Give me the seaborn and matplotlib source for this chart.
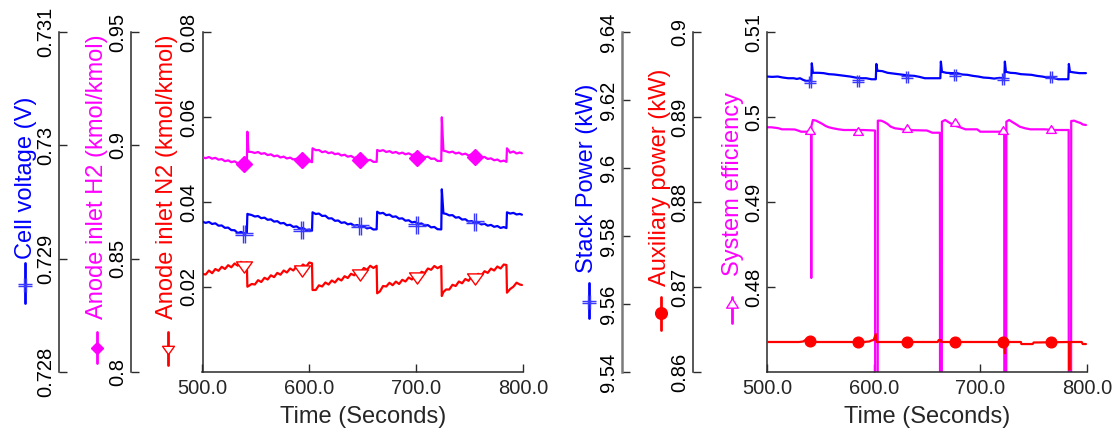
import matplotlib
matplotlib.use("Agg")
import matplotlib.pyplot as plt
import seaborn as sns
from matplotlib.path import Path
from matplotlib.lines import Line2D
from matplotlib import font_manager as fm

# ---------------- data ----------------
# Left panel: time samples shared by the three anode / cell series
t_left = [500, 503, 506, 509, 512, 515, 518, 521, 524, 527, 530, 533, 536, 539, 541.5,
          542, 543,
          546, 549, 552, 555, 558, 561, 564, 567, 570, 573, 576, 579, 582, 585, 588, 591, 594, 597, 600, 602.5,
          603, 606, 609, 612, 615, 618, 621, 624, 627, 630, 633, 636, 639, 642, 645, 648, 651, 654, 657, 660, 663,
          663.5, 666, 669, 672, 675, 678, 681, 684, 687, 690, 693, 696, 699, 702, 705, 708, 711, 714, 717, 720, 723.5,
          724, 725.5,
          728, 731, 734, 737, 740, 743, 746, 749, 752, 755, 758, 761, 764, 767, 770, 773, 776, 779, 782, 784.5,
          785, 788, 791, 794, 797, 799]

cell_voltage = [0.729326, 0.729316, 0.729324, 0.729306, 0.729312, 0.729291, 0.729293, 0.729272, 0.729274, 0.729252,
                0.729251, 0.729226, 0.729236, 0.729223, 0.729228,
                0.729395, 0.729392,
                0.729385, 0.729372, 0.729376, 0.729357, 0.729362, 0.729343, 0.729347, 0.729327, 0.729331, 0.729311,
                0.729315, 0.729295, 0.729299, 0.729280, 0.729285, 0.729266, 0.729271, 0.729252, 0.729257, 0.729247,
                0.729409, 0.729394, 0.729398, 0.729377, 0.729379, 0.729355, 0.729356, 0.729334, 0.729337, 0.729316,
                0.729321, 0.729303, 0.729309, 0.729291, 0.729297, 0.729279, 0.729285, 0.729267, 0.729274, 0.729257,
                0.729259,
                0.729414, 0.729399, 0.729404, 0.729384, 0.729389, 0.729369, 0.729373, 0.729353, 0.729356, 0.729335,
                0.729339, 0.729320, 0.729325, 0.729306, 0.729311, 0.729292, 0.729296, 0.729276, 0.729280, 0.729260,
                0.729258,
                0.729612, 0.729400,
                0.729395, 0.729382, 0.729384, 0.729362, 0.729366, 0.729345, 0.729348, 0.729328, 0.729332, 0.729314,
                0.729320, 0.729302, 0.729308, 0.729291, 0.729298, 0.729281, 0.729288, 0.729271, 0.729279, 0.729270,
                0.729409, 0.729398, 0.729404, 0.729390, 0.729395, 0.729388]

anode_h2 = [0.89472, 0.89433, 0.89484, 0.89411, 0.89449, 0.89367, 0.89392, 0.89301, 0.89339, 0.89257, 0.89295,
            0.89204, 0.89251, 0.89177, 0.89199,
            0.90601, 0.89719,
            0.89706, 0.89663, 0.89705, 0.89623, 0.89656, 0.89570, 0.89604, 0.89517, 0.89551, 0.89464, 0.89502,
            0.89420, 0.89458, 0.89376, 0.89409, 0.89323, 0.89356, 0.89270, 0.89308, 0.89256,
            0.89869, 0.89786, 0.89793, 0.89698, 0.89736, 0.89654, 0.89692, 0.89610, 0.89639, 0.89552, 0.89586,
            0.89499, 0.89533, 0.89446, 0.89480, 0.89389, 0.89418, 0.89332, 0.89361, 0.89270, 0.89273,
            0.89794, 0.89746, 0.89789, 0.89707, 0.89745, 0.89667, 0.89709, 0.89632, 0.89679, 0.89605, 0.89648,
            0.89570, 0.89612, 0.89535, 0.89568, 0.89477, 0.89502, 0.89402, 0.89418, 0.89310, 0.89309,
            0.91237, 0.89765,
            0.89737, 0.89685, 0.89723, 0.89641, 0.89679, 0.89596, 0.89634, 0.89552, 0.89599, 0.89517, 0.89551,
            0.89460, 0.89489, 0.89398, 0.89427, 0.89341, 0.89374, 0.89288, 0.89326, 0.89273,
            0.89869, 0.89676, 0.89728, 0.89640, 0.89684, 0.89649]

anode_n2 = [0.023059, 0.022944, 0.023879, 0.023250, 0.024232, 0.023815, 0.024750, 0.024238, 0.025126, 0.024638,
            0.025526, 0.025015, 0.025926, 0.025344, 0.025812,
            0.020071, 0.020200,
            0.020706, 0.020591, 0.021597, 0.021179, 0.022162, 0.021768, 0.022750, 0.022332, 0.023315, 0.022897,
            0.023879, 0.023415, 0.024350, 0.023885, 0.024821, 0.024356, 0.025291, 0.024826, 0.025762, 0.025576,
            0.019294, 0.019297, 0.020397, 0.020121, 0.021056, 0.020591, 0.021526, 0.021062, 0.021997, 0.021532,
            0.022538, 0.022121, 0.023103, 0.022756, 0.023762, 0.023415, 0.024468, 0.024050, 0.024985, 0.024474,
            0.024988,
            0.018518, 0.018944, 0.020232, 0.020121, 0.020985, 0.020426, 0.021268, 0.020709, 0.021691, 0.021297,
            0.022232, 0.021768, 0.022821, 0.022474, 0.023574, 0.023274, 0.024350, 0.024050, 0.024938, 0.024426,
            0.024941,
            0.017882, 0.018824,
            0.019412, 0.019415, 0.020515, 0.020238, 0.021291, 0.020874, 0.021879, 0.021462, 0.022421, 0.022050,
            0.023103, 0.022709, 0.023715, 0.023321, 0.024326, 0.023885, 0.024821, 0.024356, 0.025291, 0.025176,
            0.018659, 0.019529, 0.020071, 0.021012, 0.020588, 0.020471]

# left panel marker samples
t_left_marks = [539, 593, 647, 701, 755]
cell_voltage_marks = [0.729218, 0.729249, 0.729284, 0.729301, 0.729324]
anode_h2_marks = [0.89176, 0.89353, 0.89353, 0.89428, 0.89507]
anode_n2_marks = [0.024706, 0.023765, 0.022824, 0.022235, 0.021765]

# Right panel
t_stack = [500, 505, 510, 515, 520, 525, 528, 531, 534, 537, 540, 541.5, 542, 543, 548, 553, 558, 563, 568, 573,
           578, 583, 588, 593, 598, 602, 602.5, 603.5, 608, 613, 618, 623, 628, 633, 638, 643, 648, 653, 658, 662.5,
           663, 664, 668, 673, 678, 683, 688, 693, 698, 703, 708, 713, 718, 722.5, 723, 724, 728, 733, 738, 743,
           748, 753, 758, 763, 768, 773, 778, 782.5, 783, 784, 788, 793, 799]
stack_power = [9.6269, 9.6268, 9.6269, 9.6266, 9.6264, 9.6264, 9.6262, 9.6264, 9.6259, 9.6256,
               9.6257, 9.6257, 9.6308, 9.6280, 9.6280, 9.6279, 9.6276, 9.6275, 9.6273, 9.6271,
               9.6269, 9.6266, 9.6264, 9.6264, 9.6261, 9.6261, 9.6306, 9.6286, 9.6285, 9.6280,
               9.6278, 9.6276, 9.6274, 9.6272, 9.6271, 9.6268, 9.6264, 9.6264, 9.6264, 9.6264,
               9.6313, 9.6283, 9.6280, 9.6279, 9.6279, 9.6275, 9.6274, 9.6271, 9.6269, 9.6266,
               9.6265, 9.6263, 9.6265, 9.6264, 9.6313, 9.6283, 9.6280, 9.6279, 9.6276, 9.6275,
               9.6274, 9.6271, 9.6269, 9.6266, 9.6265, 9.6261, 9.6261, 9.6261, 9.6306, 9.6283,
               9.6281, 9.6279, 9.6279]

t_eff = [500, 504, 508, 511, 514, 520, 526, 529, 532, 541.3, 541.5, 541.7, 543, 546, 549, 552, 555, 558, 562, 567,
         572, 590, 601.3, 601.5, 603.7, 603.9, 607, 610, 613, 616, 620, 625, 630, 650, 655, 662.1, 662.3, 663.8,
         664, 667, 670, 673, 677, 681, 686, 697, 700, 722.4, 722.6, 724.2, 724.4, 727, 730, 733, 737, 742, 747,
         760, 770, 782.8, 783, 785, 785.2, 788, 791, 794, 796, 799]
system_eff = [0.49879, 0.49879, 0.49873, 0.49867, 0.49855, 0.49855, 0.49853, 0.49841, 0.49827, 0.49827,
              0.48106, 0.49894, 0.49965, 0.49957, 0.49938, 0.49918, 0.49894, 0.49879, 0.49867, 0.49855,
              0.49847, 0.49847, 0.49841, 0.44, 0.44, 0.49957, 0.49957, 0.49941, 0.49918, 0.49886,
              0.49867, 0.49859, 0.49847, 0.49841, 0.49815, 0.49815, 0.44, 0.44, 0.49945, 0.49965,
              0.49941, 0.49918, 0.49894, 0.49879, 0.49855, 0.49855, 0.49827, 0.49827, 0.44, 0.44,
              0.49945, 0.49965, 0.49941, 0.49918, 0.49886, 0.49867, 0.49855, 0.49855, 0.49847, 0.49847,
              0.44, 0.44, 0.49953, 0.49957, 0.49941, 0.49929, 0.49912, 0.49906]

t_aux = [500, 530, 534, 537, 541, 543, 590, 596, 598, 600, 602, 602.5, 660, 661, 663, 663.5, 722.9, 723.1, 723.3,
         738, 738.5, 749, 750, 783.2, 783.4, 783.6, 795, 796, 799]
aux_power = [0.86353, 0.86353, 0.86359, 0.86385, 0.86388, 0.86353, 0.86353, 0.86359, 0.86371, 0.86376,
             0.86447, 0.86353, 0.86353, 0.86376, 0.86376, 0.86353, 0.86353, 0.86220, 0.86353, 0.86353,
             0.86329, 0.86329, 0.86347, 0.86353, 0.86024, 0.86353, 0.86353, 0.86329, 0.86329]

t_right_marks = [540, 585, 631, 676, 721, 766]
stack_power_marks = [9.6254, 9.6257, 9.6269, 9.6274, 9.6261, 9.6267]
system_eff_marks = [0.49847, 0.49839, 0.49867, 0.49945, 0.49847, 0.49859]
aux_power_marks = [0.86368, 0.86353, 0.86353, 0.86353, 0.86353, 0.86353]

x_ticks = [500, 600, 700, 800]
x_tick_labels = ["500.0", "600.0", "700.0", "800.0"]

# ---------------- style ----------------
sns.set_theme(style="white")
plt.rcParams["font.family"] = ["Liberation Sans", "DejaVu Sans"]

try:
    fm.findfont(fm.FontProperties(family=["Liberation Sans Narrow"]), fallback_to_default=False)
    ytick_fp = fm.FontProperties(family=["Liberation Sans Narrow"], size=17)
except Exception:
    ytick_fp = fm.FontProperties(family=["Liberation Sans"], size=14.5)

BLUE, MAGENTA, RED = "#0000ff", "#ff00ff", "#ff0000"
SPINE = "#2a2a2a"
W, H = 1117, 433

hash_marker = Path([(-1, -0.13), (1, -0.13), (-1, 0.13), (1, 0.13),
                    (-0.13, -1), (-0.13, 1), (0.13, -1), (0.13, 1)],
                   [Path.MOVETO, Path.LINETO] * 4)
tri_down = Path([(-1, 0.7), (1, 0.7), (0, -0.7), (-1, 0.7)],
                [Path.MOVETO, Path.LINETO, Path.LINETO, Path.CLOSEPOLY])
tri_up = Path([(-1, -0.8), (1, -0.8), (0, 0.8), (-1, -0.8)],
              [Path.MOVETO, Path.LINETO, Path.LINETO, Path.CLOSEPOLY])

fig = plt.figure(figsize=(W / 100, H / 100), dpi=100)
axL = fig.add_axes([202.5 / W, 1 - 372 / H, 320.5 / W, 340 / H])
axR = fig.add_axes([767 / W, 1 - 372 / H, 320 / W, 340 / H])


def style_y(ax, ticks, labels, lim):
    ax.set_ylim(*lim)
    ax.set_yticks(ticks)
    ax.set_yticklabels(labels, rotation=90, va="center", ha="right", fontproperties=ytick_fp)
    ax.tick_params(axis="y", which="both", direction="in", length=6, width=1, pad=3,
                   color=SPINE, labelcolor="black", left=True, right=False)
    ax.set_ylabel("")


def style_main(ax):
    for s in ["top", "right"]:
        ax.spines[s].set_visible(False)
    for s in ["left", "bottom"]:
        ax.spines[s].set_color(SPINE)
        ax.spines[s].set_linewidth(1.1)
    ax.set_xlim(500, 800)
    ax.set_xticks(x_ticks)
    ax.set_xticklabels(x_tick_labels, fontsize=14.5)
    ax.tick_params(axis="x", direction="in", length=6, width=1, pad=5, color=SPINE, bottom=True)
    ax.set_xlabel("")
    ax.set_facecolor("none")


def offset_axis(ax, frac, color=SPINE, lw=1.1):
    a = ax.twinx()
    for s in ["right", "top", "bottom"]:
        a.spines[s].set_visible(False)
    a.spines["left"].set_visible(True)
    a.spines["left"].set_position(("axes", frac))
    a.spines["left"].set_color(color)
    a.spines["left"].set_linewidth(lw)
    a.yaxis.set_ticks_position("left")
    a.yaxis.set_label_position("left")
    a.patch.set_visible(False)
    return a


LW = 1.6

# ---------------- left panel ----------------
axH2 = offset_axis(axL, -0.2231)
axCV = offset_axis(axL, -0.4477)

sns.lineplot(x=t_left, y=anode_n2, ax=axL, color=RED, lw=LW, sort=False, estimator=None)
sns.lineplot(x=t_left_marks, y=anode_n2_marks, ax=axL, color=RED, marker=tri_down, markersize=11.5,
             markerfacecolor="white", markeredgecolor=RED, mew=1.0, linestyle="", sort=False, estimator=None)
sns.lineplot(x=t_left, y=anode_h2, ax=axH2, color=MAGENTA, lw=LW, sort=False, estimator=None)
sns.lineplot(x=t_left_marks, y=anode_h2_marks, ax=axH2, color=MAGENTA, marker="D", markersize=7.8,
             markerfacecolor=MAGENTA, markeredgecolor=MAGENTA, mew=1.0, linestyle="", sort=False, estimator=None)
sns.lineplot(x=t_left, y=cell_voltage, ax=axCV, color=BLUE, lw=LW, sort=False, estimator=None)
sns.lineplot(x=t_left_marks, y=cell_voltage_marks, ax=axCV, color=BLUE, marker=hash_marker, markersize=13,
             markerfacecolor="none", markeredgecolor="#3a3aff", mew=1.0, linestyle="", sort=False, estimator=None)

style_main(axL)
style_y(axL, [0.02, 0.04, 0.06, 0.08], ["0.02", "0.04", "0.06", "0.08"], (0, 0.08))
style_y(axH2, [0.8, 0.85, 0.9, 0.95], ["0.8", "0.85", "0.9", "0.95"], (0.8, 0.95))
style_y(axCV, [0.728, 0.729, 0.73, 0.731], ["0.728", "0.729", "0.73", "0.731"], (0.728, 0.731))

# ---------------- right panel ----------------
axAux = offset_axis(axR, -0.2313)
axSP = offset_axis(axR, -0.4531, color="#7a7a7a", lw=1.8)

sns.lineplot(x=t_eff, y=system_eff, ax=axR, color=MAGENTA, lw=LW, sort=False, estimator=None)
sns.lineplot(x=t_right_marks, y=system_eff_marks, ax=axR, color=MAGENTA, marker=tri_up, markersize=7,
             markerfacecolor="white", markeredgecolor=MAGENTA, mew=1.0, linestyle="", sort=False, estimator=None)
sns.lineplot(x=t_aux, y=aux_power, ax=axAux, color=RED, lw=LW, sort=False, estimator=None)
sns.lineplot(x=t_right_marks, y=aux_power_marks, ax=axAux, color=RED, marker="o", markersize=7.7,
             markerfacecolor=RED, markeredgecolor=RED, mew=1.0, linestyle="", sort=False, estimator=None)
sns.lineplot(x=t_stack, y=stack_power, ax=axSP, color=BLUE, lw=LW, sort=False, estimator=None)
sns.lineplot(x=t_right_marks, y=stack_power_marks, ax=axSP, color=BLUE, marker=hash_marker, markersize=8.5,
             markerfacecolor="none", markeredgecolor="#3a3aff", mew=1.0, linestyle="", sort=False, estimator=None)

style_main(axR)
style_y(axR, [0.48, 0.49, 0.5, 0.51], ["0.48", "0.49", "0.5", "0.51"], (0.47, 0.51))
style_y(axAux, [0.86, 0.87, 0.88, 0.89, 0.9], ["0.86", "0.87", "0.88", "0.89", "0.9"], (0.86, 0.9))
style_y(axSP, [9.54, 9.56, 9.58, 9.6, 9.62, 9.64], ["9.54", "9.56", "9.58", "9.6", "9.62", "9.64"], (9.54, 9.64))

for a in [axL, axH2, axCV, axR, axAux, axSP]:
    a.set_xlim(500, 800)

# ---------------- axis titles with legend glyphs ----------------
def fx(px):
    return px / W


def fy(py):
    return 1 - py / H


fig.text(fx(362.7), fy(417), "Time (Seconds)", fontsize=17, ha="center", va="center")
fig.text(fx(927), fy(417), "Time (Seconds)", fontsize=17, ha="center", va="center")

ylabels = [
    ("Cell voltage (V)", BLUE, 26, 177.5),
    ("Anode inlet H2 (kmol/kmol)", MAGENTA, 97, 177),
    ("Anode inlet N2 (kmol/kmol)", RED, 167, 177),
    ("Stack Power (kW)", BLUE, 587, 178),
    ("Auxiliary power (kW)", RED, 660, 177.5),
    ("System efficiency", MAGENTA, 733, 184.5),
]
for txt, col, px, py in ylabels:
    fig.text(fx(px), fy(py), txt, color=col, fontsize=17, rotation=90, ha="center", va="center")

glyphs = [
    (BLUE, 25, 263, 303, 285, hash_marker, 9.5, "none", "#3a3aff"),
    (MAGENTA, 97, 332, 363, 348, "D", 6.6, MAGENTA, MAGENTA),
    (RED, 168, 332, 365, 349.7, tri_down, 8.6, "white", RED),
    (BLUE, 589, 283, 318, 302, hash_marker, 9.5, "none", "#3a3aff"),
    (RED, 661, 297, 330, 313, "o", 8.4, RED, RED),
    (MAGENTA, 732, 297, 323, 303, tri_up, 8.4, "white", MAGENTA),
]
for col, px, y0, y1, ym, mk, ms, mfc, mec in glyphs:
    fig.add_artist(Line2D([fx(px), fx(px)], [fy(y0), fy(y1)], transform=fig.transFigure,
                          color=col, lw=2))
    fig.add_artist(Line2D([fx(px)], [fy(ym)], transform=fig.transFigure, marker=mk, markersize=ms,
                          markerfacecolor=mfc, markeredgecolor=mec, mew=1.0, linestyle="none"))

fig.savefig("out.png", dpi=100, facecolor="white")
